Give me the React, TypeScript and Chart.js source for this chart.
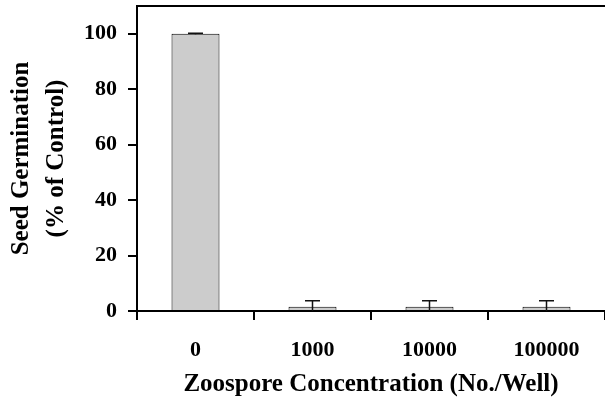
import React, { useEffect, useRef } from "react";
import { Chart, registerables } from "chart.js";

Chart.register(...registerables);

const categories = ["0", "1000", "10000", "100000"];
const germination = [100, 1.5, 1.5, 1.5];
const errors = [0.2, 2.2, 2.2, 2.2];
const yTicks = [0, 20, 40, 60, 80, 100];

const FONT = "'Liberation Serif', 'Times New Roman', serif";

const errorBarPlugin = {
  id: "errorBars",
  afterDatasetsDraw(chart: any) {
    const { ctx, scales } = chart;
    const meta = chart.getDatasetMeta(0);
    ctx.save();
    ctx.strokeStyle = "#111";
    ctx.lineWidth = 1.5;
    meta.data.forEach((bar: any, i: number) => {
      const v = germination[i];
      const e = errors[i];
      const x = bar.x;
      const yTop = scales.y.getPixelForValue(v + e);
      const yBot = scales.y.getPixelForValue(Math.max(0, v - e));
      ctx.beginPath();
      ctx.moveTo(x, yBot);
      ctx.lineTo(x, yTop);
      ctx.moveTo(x - 7.5, yTop);
      ctx.lineTo(x + 7.5, yTop);
      ctx.stroke();
    });
    ctx.restore();
  },
};

const framePlugin = {
  id: "frameTop",
  afterDraw(chart: any) {
    const { ctx, chartArea } = chart;
    ctx.save();
    ctx.strokeStyle = "#000";
    ctx.lineWidth = 2;
    ctx.beginPath();
    ctx.moveTo(chartArea.left - 1, chartArea.top);
    ctx.lineTo(chartArea.right, chartArea.top);
    ctx.stroke();
    ctx.restore();
  },
};

export default function App() {
  const ref = useRef<HTMLCanvasElement>(null);
  useEffect(() => {
    if (!ref.current) return;
    const chart = new Chart(ref.current, {
      type: "bar",
      data: {
        labels: categories,
        datasets: [
          {
            data: germination,
            backgroundColor: "#cccccc",
            borderColor: "#000",
            borderWidth: 1,
            barPercentage: 0.41,
            categoryPercentage: 1,
          },
        ],
      },
      options: {
        responsive: false,
        animation: false,
        layout: { padding: { top: 6, right: 0, left: 0, bottom: 0 } },
        plugins: { legend: { display: false }, tooltip: { enabled: false } },
        scales: {
          x: {
            grid: {
              display: true,
              drawOnChartArea: false,
              drawTicks: true,
              tickLength: 9,
              color: "#000",
              lineWidth: 2,
              offset: true,
            },
            border: { display: true, color: "#000", width: 2 },
            ticks: {
              color: "#000",
              padding: 17,
              font: { family: FONT, size: 22, weight: "bold" },
            },
            title: {
              display: true,
              text: "Zoospore Concentration (No./Well)",
              color: "#000",
              font: { family: FONT, size: 25, weight: "bold" },
              padding: { top: 0, bottom: 16 },
            },
            afterFit(scale: any) {
              scale.height = 105;
              scale.paddingLeft = 0;
              scale.paddingRight = 0;
            },
          },
          y: {
            min: 0,
            max: 110,
            afterBuildTicks(scale: any) {
              scale.ticks = yTicks.map((v) => ({ value: v }));
            },
            grid: {
              display: true,
              drawOnChartArea: false,
              drawTicks: true,
              tickLength: 9,
              color: "#000",
              lineWidth: 2,
            },
            border: { display: true, color: "#000", width: 2 },
            ticks: {
              color: "#000",
              padding: 11,
              font: { family: FONT, size: 22, weight: "bold" },
            },
            title: {
              display: true,
              text: ["Seed Germination", "(% of Control)"],
              color: "#000",
              font: { family: FONT, size: 25, weight: "bold", lineHeight: 35 / 25 },
              padding: { top: 4.5, bottom: 0 },
            },
            afterFit(scale: any) {
              scale.width = 137;
              scale.paddingTop = 0;
              scale.paddingBottom = 0;
            },
          },
        },
      },
      plugins: [errorBarPlugin, framePlugin],
    });
    return () => chart.destroy();
  }, []);
  return (
    <canvas
      ref={ref}
      width={605}
      height={416}
      style={{ position: "absolute", left: 0, top: 0, display: "block" }}
    />
  );
}
